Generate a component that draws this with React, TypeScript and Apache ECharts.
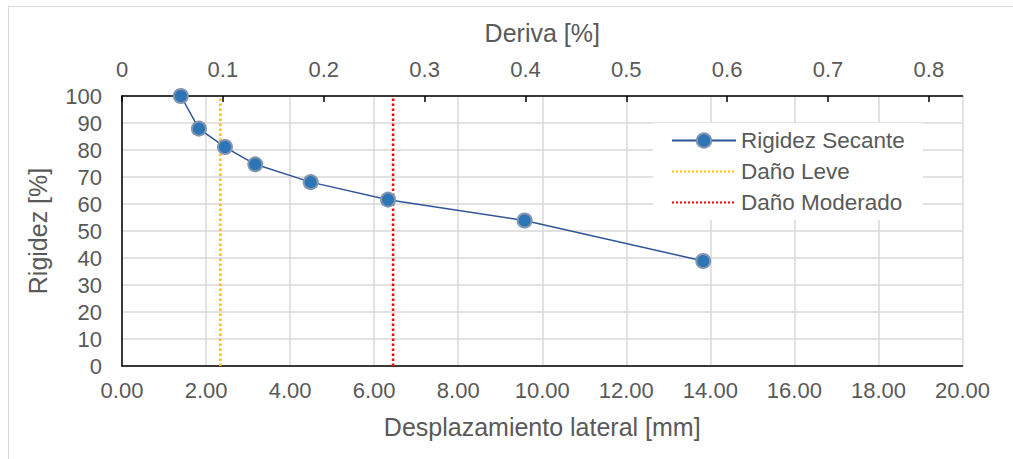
import React, { useEffect, useRef } from "react";
import * as echarts from "echarts";

const desplazamiento = [1.4, 1.83, 2.45, 3.17, 4.49, 6.33, 9.58, 13.83];
const rigidez = [100, 87.9, 81.1, 74.7, 68.1, 61.6, 53.9, 38.9];
const danoLeveX = 2.34;
const danoModeradoX = 6.45;
const rigidezRange = [0, 100];
const xTicksDeriva = [0, 0.1, 0.2, 0.3, 0.4, 0.5, 0.6, 0.7, 0.8];
const alturaMm = 2400;
const xMaxMm = 20;

const FONT = "Liberation Sans, Arial, sans-serif";
const GRAY = "#595959";

export default function App() {
  const ref = useRef<HTMLDivElement>(null);
  useEffect(() => {
    if (!ref.current) return;
    const chart = echarts.init(ref.current, null, { renderer: "svg" });
    const derivaMax = (xMaxMm / alturaMm) * 100;
    chart.setOption({
      animation: false,
      backgroundColor: "#ffffff",
      textStyle: { fontFamily: FONT, color: GRAY },
      graphic: [
        {
          type: "rect",
          shape: { x: 8.5, y: 6.5, width: 1100, height: 600 },
          style: { fill: "none", stroke: "#d9d9d9", lineWidth: 1 },
          silent: true,
        },
      ],
      grid: { left: 122, right: 50.5, top: 96, bottom: 93, containLabel: false },
      legend: {
        orient: "vertical",
        left: 653,
        top: 123,
        backgroundColor: "#ffffff",
        padding: [6, 18, 6, 18],
        itemWidth: 64,
        itemHeight: 18,
        itemGap: 8,
        textStyle: { fontFamily: FONT, fontSize: 22.5, color: GRAY, padding: [0, 0, 0, 0] },
        data: [
          { name: "Rigidez Secante" },
          { name: "Daño Leve", itemStyle: { opacity: 0 } },
          { name: "Daño Moderado", itemStyle: { opacity: 0 } },
        ],
      },
      xAxis: [
        {
          type: "value",
          position: "bottom",
          min: 0,
          max: xMaxMm,
          interval: 2,
          name: "Desplazamiento lateral [mm]",
          nameLocation: "middle",
          nameGap: 48,
          nameTextStyle: { fontFamily: FONT, fontSize: 25, color: GRAY },
          axisLine: { show: true, lineStyle: { color: "#000000", width: 1.5 } },
          axisTick: { show: false },
          axisLabel: {
            fontFamily: FONT,
            fontSize: 22,
            color: GRAY,
            margin: 13,
            formatter: (v: number) => v.toFixed(2),
          },
          splitLine: { show: true, lineStyle: { color: "#d9d9d9", width: 1.5 } },
        },
        {
          type: "value",
          position: "top",
          min: 0,
          max: derivaMax,
          name: "Deriva [%]",
          nameLocation: "middle",
          nameGap: 51,
          nameTextStyle: { fontFamily: FONT, fontSize: 25, color: GRAY },
          axisLine: { show: true, onZero: false, lineStyle: { color: "#000000", width: 1.5 } },
          axisTick: {
            show: true,
            inside: true,
            length: 6,
            customValues: xTicksDeriva,
            lineStyle: { color: "#000000", width: 1.5 },
          },
          axisLabel: {
            fontFamily: FONT,
            fontSize: 22,
            color: GRAY,
            margin: 16,
            customValues: xTicksDeriva,
            formatter: (v: number) => (v === 0 ? "0" : String(Math.round(v * 10) / 10)),
          },
          splitLine: { show: false },
        },
      ],
      yAxis: {
        type: "value",
        min: rigidezRange[0],
        max: rigidezRange[1],
        interval: 10,
        name: "Rigidez [%]",
        nameLocation: "middle",
        nameGap: 72,
        nameTextStyle: { fontFamily: FONT, fontSize: 25, color: GRAY },
        axisLine: { show: true, lineStyle: { color: "#000000", width: 1.5 } },
        axisTick: { show: false },
        axisLabel: { fontFamily: FONT, fontSize: 22, color: GRAY, margin: 20 },
        splitLine: { show: true, lineStyle: { color: "#d9d9d9", width: 1.5 } },
      },
      series: [
        {
          name: "Daño Leve",
          type: "line",
          xAxisIndex: 0,
          data: [
            [danoLeveX, rigidezRange[0]],
            [danoLeveX, rigidezRange[1]],
          ],
          symbol: "none",
          lineStyle: { color: "#FFC000", width: 2.5, type: "dotted" },
          itemStyle: { color: "#FFC000" },
          z: 2,
        },
        {
          name: "Daño Moderado",
          type: "line",
          xAxisIndex: 0,
          data: [
            [danoModeradoX, rigidezRange[0]],
            [danoModeradoX, rigidezRange[1]],
          ],
          symbol: "none",
          lineStyle: { color: "#FF0000", width: 2.5, type: "dotted" },
          itemStyle: { color: "#FF0000" },
          z: 2,
        },
        {
          name: "Rigidez Secante",
          type: "line",
          xAxisIndex: 0,
          data: desplazamiento.map((x, i) => [x, rigidez[i]]),
          symbol: "circle",
          symbolSize: 14,
          lineStyle: { color: "#2F5597", width: 1.5 },
          itemStyle: { color: "#2E75B6", borderColor: "#8497B0", borderWidth: 2 },
          z: 3,
        },
      ],
    });
    return () => chart.dispose();
  }, []);
  return (
    <div
      ref={ref}
      style={{ position: "fixed", left: 0, top: 0, width: 1013, height: 459 }}
    />
  );
}
